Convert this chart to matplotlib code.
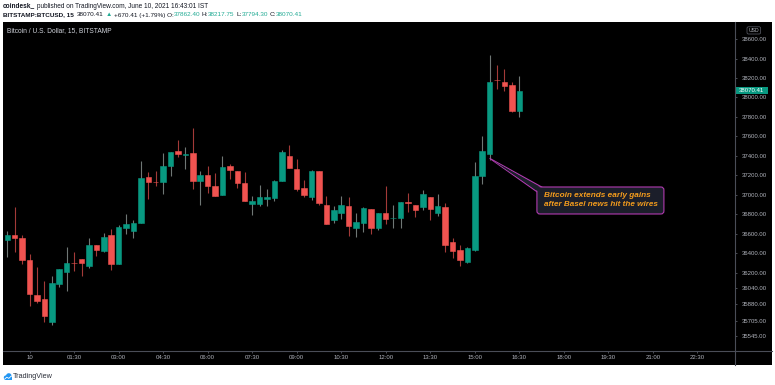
import numpy as np
import matplotlib
matplotlib.use('Agg')
import matplotlib.pyplot as plt
from matplotlib.patches import Rectangle, FancyBboxPatch, Polygon, Circle
from matplotlib.transforms import blended_transform_factory

W, H = 775, 385
FONT = ['Liberation Sans', 'DejaVu Sans']
plt.rcParams['font.family'] = FONT

# ---------------- data (BITSTAMP BTCUSD, 15 min candles) ----------------
opens = [36532, 36587, 36556, 36333, 35967, 35929, 35690, 36087, 36207, 36303,
         36340, 36265, 36481, 36419, 36590, 36292, 36662, 36631, 36710, 37186,
         37135, 37128, 37292, 37450, 37412, 37432, 37138, 37207, 37090, 37001,
         37296, 37241, 37121, 36905, 36902, 36960, 36967, 37145, 37402, 37265,
         37066, 36981, 37244, 36898, 36741, 36809, 36888, 36662, 36713, 36850,
         36662, 36813, 36758, 36761, 36926, 36892, 36871, 36981, 36809, 36878,
         36518, 36429, 36309, 36436, 37189, 37422, 38182, 38162, 38131, 37862.40]
highs = [36631, 36874, 36590, 36392, 36262, 36111, 36169, 36238, 36467, 36409,
         36340, 36559, 36487, 36611, 36652, 36693, 36806, 36744, 37350, 37230,
         37241, 37433, 37439, 37566, 37491, 37689, 37244, 37299, 37220, 37395,
         37316, 37241, 37230, 36991, 37100, 37063, 37155, 37456, 37515, 37367,
         37152, 37258, 37244, 36984, 36881, 36987, 36974, 36816, 36874, 36850,
         36813, 37087, 36898, 36929, 37018, 36892, 37046, 36981, 37005, 36916,
         36556, 36484, 36467, 37340, 37600, 38439, 38336, 38292, 38155, 38217.75]
lows = [36357, 36409, 36289, 35854, 35888, 35690, 35662, 36056, 36008, 36214,
        36166, 36251, 36374, 36409, 36231, 36292, 36600, 36553, 36710, 36957,
        37094, 37011, 37196, 37388, 37261, 37059, 36892, 37018, 36987, 37001,
        37165, 37070, 36933, 36796, 36881, 36881, 36933, 37145, 37272, 37035,
        36977, 36946, 36895, 36696, 36707, 36755, 36573, 36563, 36614, 36597,
        36635, 36700, 36662, 36662, 36826, 36768, 36847, 36744, 36779, 36412,
        36347, 36265, 36303, 36419, 37107, 37360, 38086, 38062, 37847, 37794.30]
closes = [36590, 36553, 36327, 35981, 35905, 35758, 36094, 36238, 36299, 36296,
          36299, 36481, 36436, 36570, 36292, 36666, 36703, 36713, 37176, 37131,
          37128, 37292, 37439, 37415, 37419, 37145, 37207, 37094, 36987, 37282,
          37251, 37118, 36933, 36939, 36977, 36981, 37145, 37439, 37272, 37063,
          36998, 37241, 36919, 36703, 36840, 36892, 36683, 36720, 36868, 36662,
          36813, 36755, 36765, 36929, 36912, 36840, 37011, 36857, 36888, 36481,
          36426, 36327, 36457, 37193, 37446, 38155, 38175, 38114, 37864, 38070.41]

START_MIN = -45          # first candle: 23:15 on June 9
BAR_MIN = 15
time_tick_minutes = [0, 90, 180, 270, 360, 450, 540, 630, 720, 810, 900, 990,
                     1080, 1170, 1260, 1350]
time_tick_labels = ['10', '01:30', '03:00', '04:30', '06:00', '07:30', '09:00',
                    '10:30', '12:00', '13:30', '15:00', '16:30', '18:00',
                    '19:30', '21:00', '22:30']
price_ticks = [38600, 38400, 38200, 38000, 37800, 37600, 37400, 37200, 37000,
               36800, 36600, 36400, 36200, 36040, 35880, 35705, 35545]
change_text = '+670.41 (+1.79%)'
annot_lines = ['Bitcoin extends early gains', 'after Basel news hit the wires']
annot_anchor = (65, 37375)

# ---------------- styles ----------------
UP = '#089981'
DOWN = '#f05350'
UP_WICK = '#6f7775'
DOWN_WICK = '#a33a38'
AXIS_TXT = '#b2b5be'
LINE = '#4a4d57'
DARK = '#131722'
TEAL_TXT = '#22ab94'

o = np.array(opens, float); h = np.array(highs, float)
l = np.array(lows, float); c = np.array(closes, float)
n = len(o)
x = np.arange(n)
up = c >= o

fig = plt.figure(figsize=(W / 100, H / 100), dpi=100, facecolor='white')
fig.patches.append(Rectangle((3 / W, 1 - 365 / H), 769 / W, 343 / H,
                             transform=fig.transFigure, fc='black', ec='none', zorder=-1))

ax = fig.add_axes([3 / W, 1 - 351 / H, 732 / W, 329 / H])
ax.set_facecolor('black')
ax.vlines(x, l, h, colors=np.where(up, UP_WICK, DOWN_WICK), linewidth=0.8, zorder=2)
body_col = np.where(up, UP, DOWN)
ax.bar(x, np.abs(c - o), bottom=np.minimum(o, c), width=0.74, color=body_col,
       edgecolor=body_col, linewidth=0.4, zorder=3)

ax.set_xlim(-0.58, 98.07)
ax.set_ylim(35394.5, 38775.7)
for s in ax.spines.values():
    s.set_visible(False)

ax.yaxis.tick_right()
ax.set_yticks(price_ticks)
ax.set_yticklabels([f'{v:.2f}' for v in price_ticks])
ax.tick_params(axis='y', direction='out', length=1.6, width=0.5, color='#6a6d78',
               pad=3.3, labelsize=4.3, labelcolor=AXIS_TXT)
ax.set_xticks([(m - START_MIN) / BAR_MIN for m in time_tick_minutes])
ax.set_xticklabels(time_tick_labels)
ax.tick_params(axis='x', direction='out', length=1.6, width=0.5, color='#6a6d78',
               pad=1.6, labelsize=4.3, labelcolor=AXIS_TXT)

# last price label on the price scale
bt = blended_transform_factory(ax.transAxes, ax.transData)
ax.add_patch(Rectangle((1.0, c[-1] - 33), 33 / 732, 66, transform=bt, fc=UP,
                       ec='none', clip_on=False, zorder=20))
ax.text(1.0 + 16.5 / 732, c[-1], f'{c[-1]:.2f}', transform=bt, ha='center',
        va='center', color='white', fontsize=4.3, zorder=21, clip_on=False)

# ---------------- overlay in pixel coordinates ----------------
ov = fig.add_axes([0, 0, 1, 1], zorder=10)
ov.set_xlim(0, W); ov.set_ylim(H, 0)
ov.axis('off'); ov.patch.set_visible(False)
renderer = fig.canvas.get_renderer()

ov.plot([735, 735], [22, 365], color=LINE, lw=0.8)
ov.plot([3, 772], [351, 351], color=LINE, lw=0.8)


def tw(s, size, weight='normal', style='normal'):
    t = ov.text(0, 0, s, fontsize=size, fontweight=weight, fontstyle=style)
    w = t.get_window_extent(renderer).width
    t.remove()
    return w


def place_line(x0, y0, segs, width, style='normal', base=10, z=8):
    def lead(s):
        return len(s) - len(s.lstrip(' '))

    def total(size):
        tot = 0
        for s, col, wgt in segs:
            k = lead(s)
            if k:
                tot += tw('a' + ' ' * k + 'a', size, wgt, style) - tw('aa', size, wgt, style)
            tot += tw(s.strip(' '), size, wgt, style)
        return tot

    size = base * width / total(base)
    xx = x0
    for s, col, wgt in segs:
        k = lead(s)
        if k:
            xx += tw('a' + ' ' * k + 'a', size, wgt, style) - tw('aa', size, wgt, style)
        t = ov.text(xx, y0, s.strip(' '), fontsize=size, fontweight=wgt, color=col,
                    fontstyle=style, ha='left', va='center', zorder=z)
        xx += t.get_window_extent(renderer).width
    return size


place_line(2.7, 6, [('coindesk_', DARK, 'bold'),
                    (' published on TradingView.com, June 10, 2021 16:43:01 IST', DARK, 'normal')], 207)
place_line(2.7, 15, [('BITSTAMP:BTCUSD, 15', DARK, 'bold'),
                     (f'  {c[-1]:.2f}', DARK, 'normal'),
                     (' ▲', TEAL_TXT, 'normal'),
                     (f' {change_text} O:', DARK, 'normal'),
                     (f'{o[-1]:.2f}', TEAL_TXT, 'normal'),
                     (' H:', DARK, 'normal'),
                     (f'{h[-1]:.2f}', TEAL_TXT, 'normal'),
                     (' L:', DARK, 'normal'),
                     (f'{l[-1]:.2f}', TEAL_TXT, 'normal'),
                     (' C:', DARK, 'normal'),
                     (f'{c[-1]:.2f}', TEAL_TXT, 'normal')], 299)
place_line(7.3, 31, [('Bitcoin / U.S. Dollar, 15, BITSTAMP', '#d1d4dc', 'normal')], 105)

# USD badge
ov.add_patch(FancyBboxPatch((747, 26.8), 13.6, 7.2,
                            boxstyle='round,pad=0,rounding_size=1.5',
                            fc='black', ec='#5d606b', lw=0.5))
ov.text(753.8, 30.5, 'USD', fontsize=3.7, color=AXIS_TXT, ha='center', va='center')

# callout annotation anchored at a data point
tx, ty = ax.transData.transform(annot_anchor)
ty = H - ty
BOX_FC = '#1b1e2a'
BOX_EC = '#b13bb0'
ov.add_patch(Polygon([(tx, ty), (tx + 53.5, ty + 29.5), (tx + 48.8, ty + 34.5)],
                     closed=True, fc=BOX_FC, ec=BOX_EC, lw=0.8, zorder=3))
ov.add_patch(FancyBboxPatch((tx + 47.3, ty + 28.7), 127, 27,
                            boxstyle='round,pad=0,rounding_size=3',
                            fc=BOX_FC, ec=BOX_EC, lw=0.8, zorder=4))
ov.add_patch(Polygon([(tx + 3, ty + 2.0), (tx + 53.0, ty + 30.6), (tx + 49.6, ty + 33.8)],
                     closed=True, fc=BOX_FC, ec='none', zorder=5))
place_line(tx + 54.3, ty + 36.8, [(annot_lines[0], '#f29b1d', 'bold')], 106.5, style='italic')
place_line(tx + 54.3, ty + 45.8, [(annot_lines[1], '#f29b1d', 'bold')], 115, style='italic')

# TradingView logo
BLUE = '#2196f3'
ov.add_patch(Circle((6.0, 377.6), 2.2, fc=BLUE, ec='none'))
ov.add_patch(Circle((8.8, 376.0), 2.8, fc=BLUE, ec='none'))
ov.add_patch(Rectangle((3.8, 377.4), 8.4, 2.4, fc=BLUE, ec='none'))
ov.plot([4.5, 6.8, 8.8, 11.3], [379.3, 377.2, 378.4, 376.0], color='white', lw=0.6)
place_line(13.3, 376.2, [('TradingView', '#2a2e39', 'normal')], 40)

fig.savefig('out.png', dpi=100, facecolor='white')
